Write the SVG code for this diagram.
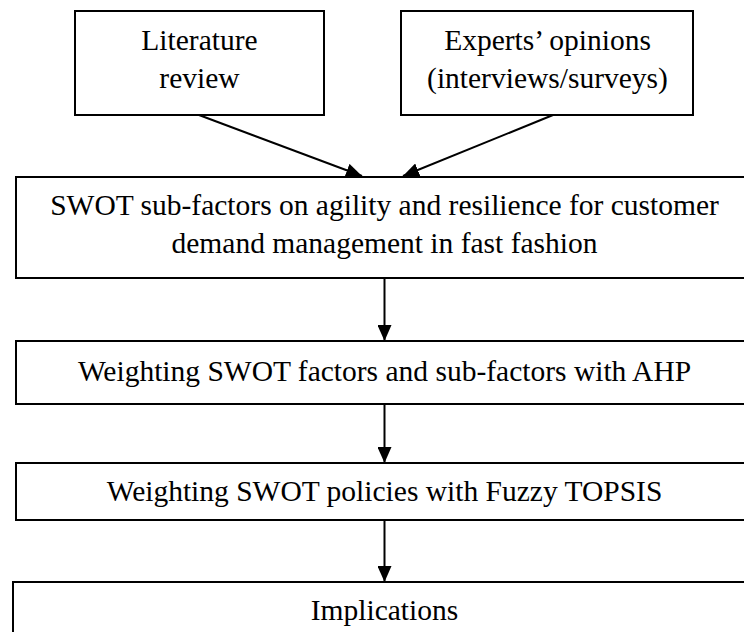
<svg xmlns="http://www.w3.org/2000/svg" width="744" height="632" viewBox="0 0 744 632">
<style>
.box{fill:#fff;stroke:#000;stroke-width:2}
.t{font-family:"Liberation Serif","Times New Roman",serif;font-size:29.5px;fill:#000;text-anchor:middle}
.c{stroke:#000;stroke-width:2;fill:none;marker-end:url(#ah)}
</style>
<defs>
<marker id="ah" markerUnits="userSpaceOnUse" markerWidth="16" markerHeight="14" refX="16" refY="7" orient="auto" viewBox="0 0 16 14">
<path d="M0,0 L16,7 L0,14 z" fill="#000"/>
</marker>
</defs>
<rect width="744" height="632" fill="#fff"/>
<g id="connectors">
<line class="c" x1="199" y1="115" x2="362" y2="176"/>
<line class="c" x1="553" y1="115" x2="403" y2="176"/>
<line class="c" x1="384.5" y1="278" x2="384.5" y2="341"/>
<line class="c" x1="384.5" y1="404" x2="384.5" y2="463"/>
<line class="c" x1="384.5" y1="520" x2="384.5" y2="582"/>
</g>
<g id="literature">
<rect class="box" x="75" y="11" width="249" height="104"/>
<text class="t" x="199.5" y="50">Literature</text>
<text class="t" x="199.5" y="88">review</text>
</g>
<g id="experts">
<rect class="box" x="401" y="11" width="292" height="104"/>
<text class="t" x="547.5" y="50">Experts’ opinions</text>
<text class="t" x="547.5" y="88">(interviews/surveys)</text>
</g>
<g id="swot">
<rect class="box" x="16" y="177" width="740" height="101"/>
<text class="t" x="384.5" y="215">SWOT sub-factors on agility and resilience for customer</text>
<text class="t" x="384.5" y="253">demand management in fast fashion</text>
</g>
<g id="ahp">
<rect class="box" x="16" y="341" width="740" height="63"/>
<text class="t" x="384.5" y="381">Weighting SWOT factors and sub-factors with AHP</text>
</g>
<g id="topsis">
<rect class="box" x="16" y="463" width="740" height="57"/>
<text class="t" x="384.5" y="501">Weighting SWOT policies with Fuzzy TOPSIS</text>
</g>
<g id="implications">
<rect class="box" x="13" y="582" width="744" height="70"/>
<text class="t" x="384.5" y="620">Implications</text>
</g>
</svg>
